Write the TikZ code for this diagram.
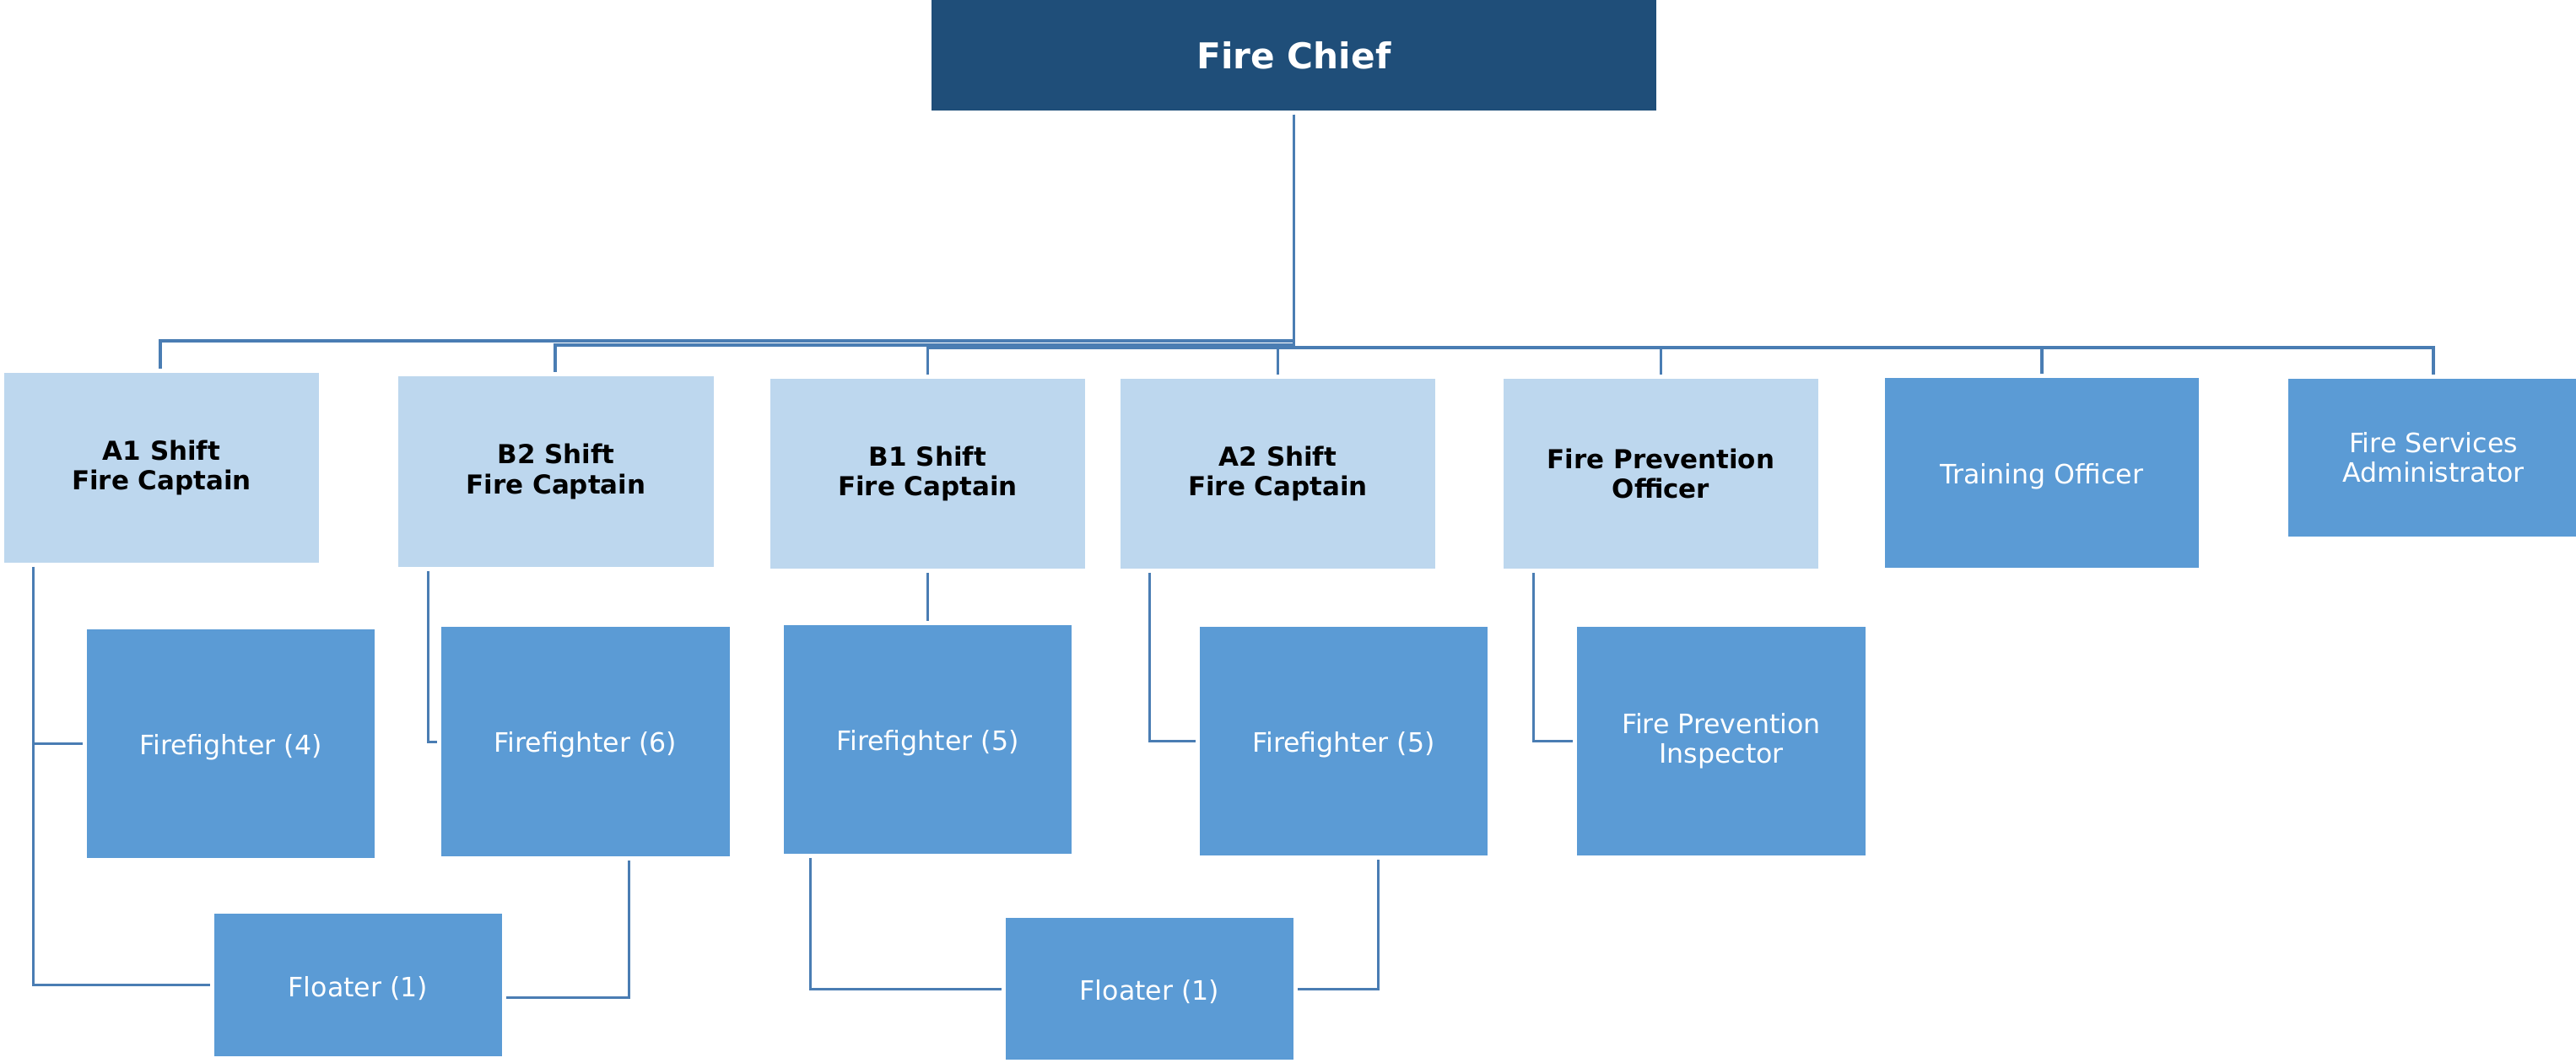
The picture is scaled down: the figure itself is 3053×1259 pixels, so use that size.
\documentclass[tikz,border=0pt]{standalone}
\usepackage{fontspec}
\setmainfont{DejaVu Sans}
\definecolor{chiefblue}{HTML}{1F4E79}
\definecolor{lightbox}{HTML}{BDD7EE}
\definecolor{midbox}{HTML}{5B9BD5}
\definecolor{linecol}{HTML}{4A7DB3}
\tikzset{
  chiefbox/.style={rectangle, inner sep=0pt, fill=chiefblue, text=white, align=center,
    font=\fontsize{12}{14}\selectfont\bfseries},
  capbox/.style={rectangle, inner sep=0pt, fill=lightbox, text=black, align=center,
    font=\fontsize{8.8}{10}\selectfont\bfseries,
    execute at begin node={\rule{0pt}{9.0pt}}},
  staffbox/.style={rectangle, inner sep=0pt, fill=midbox, text=white, align=center,
    font=\fontsize{9}{10}\selectfont,
    execute at begin node={\rule{0pt}{9.1pt}}},
  conn/.style={draw=linecol, line width=0.03cm, shorten <=0.04cm, shorten >=0.04cm},
  busconn/.style={draw=linecol, line width=0.035cm, shorten <=0.04cm, shorten >=0.04cm}
}
\begin{document}
\begin{tikzpicture}[x=0.01cm,y=-0.01cm]
\useasboundingbox (0,0) rectangle (3053,1259);
% top
\node[chiefbox, minimum width=8.59cm, minimum height=1.31cm] (chief) at (1533.5,65.5) {Fire Chief};
% second row
\node[capbox, minimum width=3.73cm, minimum height=2.25cm] (a1) at (191.5,554.5) {A1 Shift\\Fire Captain};
\node[capbox, minimum width=3.74cm, minimum height=2.26cm] (b2) at (659,559) {B2 Shift\\Fire Captain};
\node[capbox, minimum width=3.73cm, minimum height=2.25cm] (b1) at (1099.5,561.5) {B1 Shift\\Fire Captain};
\node[capbox, minimum width=3.73cm, minimum height=2.25cm] (a2) at (1514.5,561.5) {A2 Shift\\Fire Captain};
\node[capbox, minimum width=3.73cm, minimum height=2.25cm] (fpo) at (1968.5,561.5) {Fire Prevention\\Officer};
\node[staffbox, minimum width=3.72cm, minimum height=2.25cm] (to) at (2420,560.5) {Training Officer};
\node[staffbox, minimum width=3.44cm, minimum height=1.87cm] (fsa) at (2884,542.5) {Fire Services\\Administrator};
% third row
\node[staffbox, minimum width=3.41cm, minimum height=2.71cm] (ff4) at (273.5,881.5) {Firefighter (4)};
\node[staffbox, minimum width=3.42cm, minimum height=2.72cm] (ff6) at (694,879) {Firefighter (6)};
\node[staffbox, minimum width=3.41cm, minimum height=2.71cm] (ff5b) at (1099.5,876.5) {Firefighter (5)};
\node[staffbox, minimum width=3.41cm, minimum height=2.71cm] (ff5a) at (1592.5,878.5) {Firefighter (5)};
\node[staffbox, minimum width=3.42cm, minimum height=2.71cm] (fpi) at (2040,878.5) {Fire Prevention\\Inspector};
% floaters
\node[staffbox, minimum width=3.41cm, minimum height=1.69cm] (fl1) at (424.5,1167.5) {Floater (1)};
\node[staffbox, minimum width=3.41cm, minimum height=1.68cm] (fl2) at (1362.5,1172) {Floater (1)};
% bus connectors from the chief
\draw[busconn] (chief.south) -- ([yshift=-2.72cm]chief.south) -| ([xshift=-0.015cm]a1.north);
\draw[busconn] (chief.south) -- ([yshift=-2.77cm]chief.south) -| ([xshift=-0.01cm]b2.north);
\draw[busconn] (chief.south) -- ([yshift=-2.80cm]chief.south) -| (b1.north);
\draw[busconn] (chief.south) -- ([yshift=-2.80cm]chief.south) -| (a2.north);
\draw[busconn] (chief.south) -- ([yshift=-2.80cm]chief.south) -| (fpo.north);
\draw[busconn] (chief.south) -- ([yshift=-2.80cm]chief.south) -| (to.north);
\draw[busconn] (chief.south) -- ([yshift=-2.80cm]chief.south) -| (fsa.north);
% captains to crews
\draw[conn] ([xshift=0.35cm]a1.south west) |- (ff4.west);
\draw[conn] ([xshift=0.35cm]a1.south west) |- (fl1.west);
\draw[conn] ([xshift=0.36cm]b2.south west) |- (ff6.west);
\draw[conn] ([xshift=2.23cm]ff6.south west) |- ([yshift=-0.145cm]fl1.east);
\draw[conn] (b1.south) -- (ff5b.north);
\draw[conn] ([xshift=0.32cm]ff5b.south west) |- (fl2.west);
\draw[conn] ([xshift=0.35cm]a2.south west) |- (ff5a.west);
\draw[conn] ([xshift=2.12cm]ff5a.south west) |- (fl2.east);
\draw[conn] ([xshift=0.36cm]fpo.south west) |- (fpi.west);
\end{tikzpicture}
\end{document}
